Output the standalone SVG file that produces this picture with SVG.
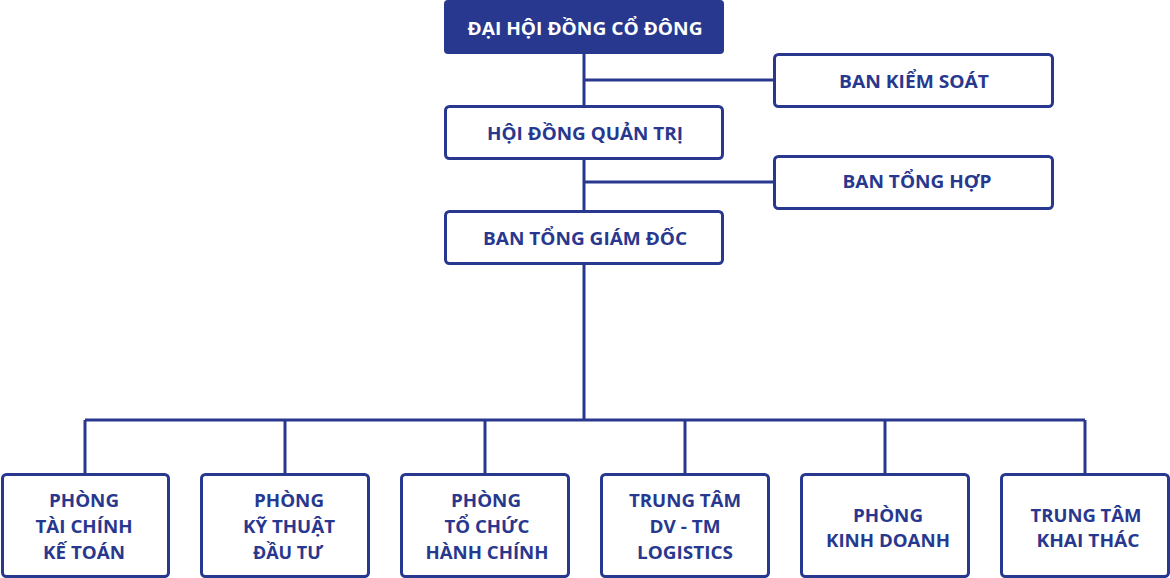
<svg xmlns="http://www.w3.org/2000/svg" width="1170" height="578" viewBox="0 0 1170 578">
<style>
.box{fill:#ffffff;stroke:#28388e;stroke-width:3}
.top{fill:#28388e}
.ln{fill:none;stroke:#28388e;stroke-width:3}
text{font-family:"Open Sans","Liberation Sans",sans-serif;font-weight:700;font-size:17px;fill:#28388e;text-anchor:middle}
.w{fill:#ffffff}
</style>
<rect width="1170" height="578" fill="#ffffff"/>
<g id="connectors">
<path class="ln" d="M584 54V106M584 80H773M584 159V211M584 182H773M584 264V420M85 420H1085M85 420V474M285 420V474M485 420V474M685 420V474M885 420V474M1085 420V474"/>
</g>
<g id="dhdcd">
<rect class="top" x="444" y="0" width="280" height="54" rx="4"/>
<text class="w" x="585" y="35" textLength="235" lengthAdjust="spacingAndGlyphs">ĐẠI HỘI ĐỒNG CỔ ĐÔNG</text>
</g>
<g id="bks">
<rect class="box" x="774.5" y="54.5" width="278" height="52" rx="4"/>
<text x="914" y="88" textLength="150" lengthAdjust="spacingAndGlyphs">BAN KIỂM SOÁT</text>
</g>
<g id="hdqt">
<rect class="box" x="445.5" y="106.5" width="277" height="52" rx="4"/>
<text x="585" y="140" textLength="196" lengthAdjust="spacingAndGlyphs">HỘI ĐỒNG QUẢN TRỊ</text>
</g>
<g id="bth">
<rect class="box" x="774.5" y="156.5" width="278" height="52" rx="4"/>
<text x="917" y="188" textLength="149" lengthAdjust="spacingAndGlyphs">BAN TỔNG HỢP</text>
</g>
<g id="btgd">
<rect class="box" x="445.5" y="211.5" width="277" height="52" rx="4"/>
<text x="585" y="245" textLength="204" lengthAdjust="spacingAndGlyphs">BAN TỔNG GIÁM ĐỐC</text>
</g>
<g id="p1">
<rect class="box" x="2.5" y="474.5" width="166" height="102" rx="4"/>
<text x="84" y="507" textLength="70" lengthAdjust="spacingAndGlyphs">PHÒNG</text>
<text x="84" y="533" textLength="97" lengthAdjust="spacingAndGlyphs">TÀI CHÍNH</text>
<text x="84" y="559" textLength="82" lengthAdjust="spacingAndGlyphs">KẾ TOÁN</text>
</g>
<g id="p2">
<rect class="box" x="201.5" y="474.5" width="167" height="102" rx="4"/>
<text x="289" y="507" textLength="70" lengthAdjust="spacingAndGlyphs">PHÒNG</text>
<text x="289" y="533" textLength="92" lengthAdjust="spacingAndGlyphs">KỸ THUẬT</text>
<text x="288" y="559" textLength="70" lengthAdjust="spacingAndGlyphs">ĐẦU TƯ</text>
</g>
<g id="p3">
<rect class="box" x="401.5" y="474.5" width="167" height="102" rx="4"/>
<text x="486" y="507" textLength="70" lengthAdjust="spacingAndGlyphs">PHÒNG</text>
<text x="487" y="533" textLength="85" lengthAdjust="spacingAndGlyphs">TỔ CHỨC</text>
<text x="487" y="559" textLength="123" lengthAdjust="spacingAndGlyphs">HÀNH CHÍNH</text>
</g>
<g id="p4">
<rect class="box" x="601.5" y="474.5" width="167" height="102" rx="4"/>
<text x="685" y="507" textLength="112" lengthAdjust="spacingAndGlyphs">TRUNG TÂM</text>
<text x="685" y="533" textLength="71" lengthAdjust="spacingAndGlyphs">DV - TM</text>
<text x="685" y="559" textLength="96" lengthAdjust="spacingAndGlyphs">LOGISTICS</text>
</g>
<g id="p5">
<rect class="box" x="801.5" y="474.5" width="167" height="102" rx="4"/>
<text x="888" y="522" textLength="70" lengthAdjust="spacingAndGlyphs">PHÒNG</text>
<text x="888" y="547" textLength="124" lengthAdjust="spacingAndGlyphs">KINH DOANH</text>
</g>
<g id="p6">
<rect class="box" x="1001.5" y="474.5" width="167" height="102" rx="4"/>
<text x="1086" y="522" textLength="111" lengthAdjust="spacingAndGlyphs">TRUNG TÂM</text>
<text x="1088" y="547" textLength="103" lengthAdjust="spacingAndGlyphs">KHAI THÁC</text>
</g>
</svg>
